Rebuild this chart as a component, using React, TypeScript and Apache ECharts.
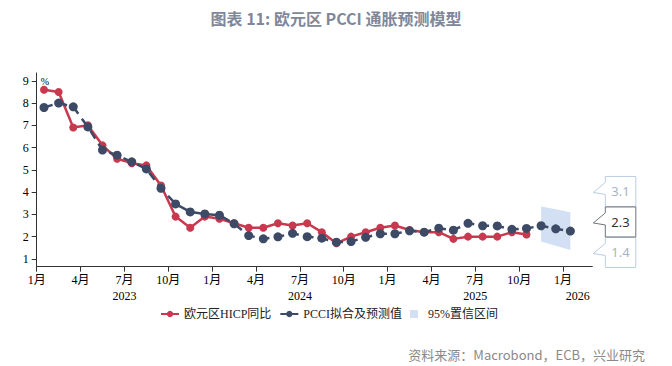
import React, { useEffect, useRef } from 'react';
import * as echarts from 'echarts';

const startYear = 2023;
const axisMonths = 38; // Jan 2023 .. Mar 2026
const hicp = [8.6, 8.5, 6.9, 7.0, 6.1, 5.5, 5.3, 5.2, 4.3, 2.9, 2.4, 2.9, 2.8, 2.6, 2.4, 2.4, 2.6, 2.5, 2.6, 2.2, 1.7, 2.0, 2.2, 2.4, 2.5, 2.3, 2.2, 2.2, 1.9, 2.0, 2.0, 2.0, 2.2, 2.1];
const pcci = [7.8, 8.0, 7.83, 6.93, 5.89, 5.66, 5.36, 5.04, 4.17, 3.47, 3.11, 3.02, 2.96, 2.58, 2.05, 1.9, 1.99, 2.15, 2.0, 1.93, 1.75, 1.78, 1.97, 2.13, 2.13, 2.26, 2.2, 2.38, 2.29, 2.6, 2.49, 2.48, 2.33, 2.37, 2.49, 2.35, 2.25];
const bandStartIndex = 34;
const bandUpper = [3.35, 3.23, 3.1];
const bandLower = [1.78, 1.59, 1.4];
const bandLabels = [3.1, 2.3, 1.4];
const monthTicks = [0, 3, 6, 9, 12, 15, 18, 21, 24, 27, 30, 33, 36];
const yearLabels = ['2023', '2024', '2025', '2026'];
const yTicks = [1, 2, 3, 4, 5, 6, 7, 8, 9];

const titleText = '图表 11: 欧元区 PCCI 通胀预测模型';
const sourceText = '资料来源：Macrobond，ECB，兴业研究';
const nameHicp = '欧元区HICP同比';
const namePcci = 'PCCI拟合及预测值';
const nameBand = '95%置信区间';

const RED = '#c8394f';
const NAVY = '#3c4a66';
const BAND = '#d3dff2';
const SERIF = '"Liberation Serif", "Times New Roman", "Noto Sans CJK SC", serif';

const yearCenters = yearLabels.map((_, k) => {
  const s = Math.max(0, k * 12);
  const e = Math.min(axisMonths, (k + 1) * 12);
  return (s + e) / 2;
});

export default function App() {
  const ref = useRef<HTMLDivElement>(null);
  useEffect(() => {
    if (!ref.current) return;
    const chart = echarts.init(ref.current, undefined, { renderer: 'svg' });
    const mid = (i: number) => i + 0.5;
    const bandData = bandUpper.map((u, i) => [mid(bandStartIndex + i), bandLower[i], u]);
    const option: any = {
      animation: false,
      backgroundColor: '#ffffff',
      title: [
        {
          text: titleText,
          left: 'center',
          top: 5,
          textStyle: { fontFamily: '"Noto Sans CJK SC", sans-serif', fontWeight: 'bold', fontSize: 16, color: '#7f8899' },
        },
        {
          text: sourceText,
          right: 22,
          top: 343,
          textStyle: { fontFamily: '"Noto Sans CJK SC", sans-serif', fontWeight: 'normal', fontSize: 13, color: '#8a8a8a' },
        },
      ],
      legend: {
        left: 155,
        top: 303,
        itemWidth: 18,
        itemHeight: 8,
        itemGap: 8,
        textStyle: { fontFamily: SERIF, fontSize: 12, color: '#222' },
        data: [
          { name: nameHicp },
          { name: namePcci, lineStyle: { type: 'solid' } },
          { name: nameBand, icon: 'path://M0 0h10v10h-10z', itemStyle: { color: BAND } },
        ],
      },
      grid: { left: 36.7, right: 79.7, top: 73, bottom: 99.3 },
      xAxis: [
        {
          type: 'value',
          min: 0,
          max: axisMonths,
          axisLine: { show: true, lineStyle: { color: '#333', width: 1 } },
          axisTick: { show: true, customValues: monthTicks, length: 5, lineStyle: { color: '#333' } },
          axisLabel: {
            customValues: monthTicks,
            formatter: (v: number) => `${(Math.round(v) % 12) + 1}月`,
            fontFamily: SERIF,
            fontSize: 12,
            color: '#000',
            margin: 7,
          },
          splitLine: { show: false },
        },
        {
          type: 'value',
          position: 'bottom',
          offset: 16,
          min: 0,
          max: axisMonths,
          axisLine: { show: false },
          axisTick: { show: false },
          axisLabel: {
            customValues: yearCenters,
            formatter: (v: number) => {
              const k = yearCenters.indexOf(v);
              return k >= 0 ? yearLabels[k] : '';
            },
            fontFamily: SERIF,
            fontSize: 12,
            color: '#000',
            margin: 7,
          },
          splitLine: { show: false },
        },
      ],
      yAxis: {
        type: 'value',
        min: 0.65,
        max: 9.35,
        name: '%',
        nameLocation: 'end',
        nameGap: -3,
        nameTextStyle: { fontFamily: SERIF, fontSize: 10, color: '#000', align: 'left', verticalAlign: 'top', padding: [0, 0, 0, 4] },
        axisLine: { show: true, lineStyle: { color: '#333', width: 1 } },
        axisTick: { show: true, customValues: yTicks, length: 5, lineStyle: { color: '#333' } },
        axisLabel: { customValues: yTicks, fontFamily: SERIF, fontSize: 12, color: '#000', margin: 8 },
        splitLine: { show: false },
      },
      series: [
        {
          name: nameBand,
          type: 'custom',
          clip: false,
          silent: true,
          z: 1,
          itemStyle: { color: BAND },
          data: bandData,
          encode: { x: 0, y: [1, 2] },
          renderItem: (params: any, api: any) => {
            if (params.dataIndex !== 0) return null;
            const upper = bandData.map((d) => api.coord([d[0], d[2]]));
            const lower = bandData.map((d) => api.coord([d[0], d[1]])).reverse();
            return {
              type: 'polygon',
              shape: { points: upper.concat(lower) },
              style: { fill: BAND, stroke: 'none' },
            };
          },
        },
        {
          name: nameHicp,
          type: 'line',
          data: hicp.map((v, i) => [mid(i), v]),
          symbol: 'circle',
          symbolSize: 8,
          itemStyle: { color: RED },
          lineStyle: { color: RED, width: 2.5 },
          z: 3,
        },
        {
          name: namePcci,
          type: 'line',
          data: pcci.map((v, i) => [mid(i), v]),
          symbol: 'circle',
          symbolSize: 9,
          itemStyle: { color: NAVY },
          lineStyle: { color: NAVY, width: 2.5, type: [9, 6] },
          z: 4,
        },
        {
          name: '区间标注',
          type: 'custom',
          clip: false,
          silent: true,
          z: 5,
          data: bandLabels.map((v) => [axisMonths, v]),
          renderItem: (params: any, api: any) => {
            const idx = params.dataIndex;
            const anchor = api.coord([axisMonths, bandLabels[1]]);
            const cy = anchor[1] - 8 + (idx - 1) * 30.5;
            const left = anchor[0] + 13;
            const w = 30.5;
            const h = 30;
            const tipX = anchor[0] + 1;
            const isMid = idx === 1;
            return {
              type: 'group',
              z2: isMid ? 10 : 1,
              children: [
                {
                  type: 'polygon',
                  z2: isMid ? 10 : 1,
                  shape: {
                    points: [
                      [left, cy - h / 2],
                      [left + w, cy - h / 2],
                      [left + w, cy + h / 2],
                      [left, cy + h / 2],
                      [left, cy + 3],
                      [tipX, cy + 1],
                      [left, cy - 9],
                    ],
                  },
                  style: { fill: '#fff', stroke: isMid ? '#6e737c' : '#bccde3', lineWidth: 1 },
                },
                {
                  type: 'text',
                  z2: isMid ? 11 : 2,
                  style: {
                    x: left + w / 2,
                    y: cy,
                    text: String(api.value(1)),
                    align: 'center',
                    verticalAlign: 'middle',
                    fontFamily: '"Noto Sans", "Open Sans", sans-serif',
                    fontSize: 13,
                    fill: isMid ? '#333' : '#a9b3c6',
                  },
                },
              ],
            };
          },
        },
      ],
    };
    chart.setOption(option);
    return () => chart.dispose();
  }, []);
  return <div ref={ref} style={{ position: 'absolute', left: 0, top: 0, width: 672, height: 366 }} />;
}
